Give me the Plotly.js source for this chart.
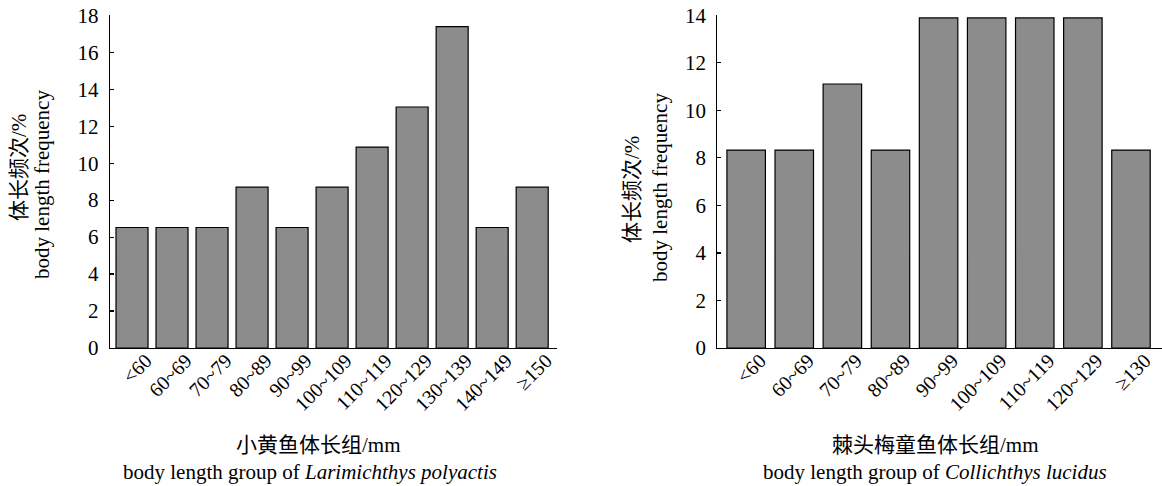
<!DOCTYPE html>
<html>
<head>
<meta charset="utf-8">
<script src="https://cdn.plot.ly/plotly-3.0.1.min.js"></script>
<style>html,body{margin:0;padding:0;background:#fff;}#chart{width:1162px;height:486px;}</style>
</head>
<body>
<div id="chart"></div>
<script>
// Left panel: Larimichthys polyactis
const catsA = ["<60","60~69","70~79","80~89","90~99","100~109","110~119","120~129","130~139","140~149","≥150"];
const valsA = [6.52,6.52,6.52,8.70,6.52,8.70,10.87,13.04,17.39,6.52,8.70];
// Right panel: Collichthys lucidus
const catsB = ["<60","60~69","70~79","80~89","90~99","100~109","110~119","120~129","≥130"];
const valsB = [8.33,8.33,11.11,8.33,13.89,13.89,13.89,13.89,8.33];

const FONT = "'Liberation Serif', 'Times New Roman', 'Noto Sans CJK SC', serif";
const W = 1162, H = 486;
const barStyle = {color:"#8c8c8c", line:{color:"#000", width:1.2}};

const traces = [
  {type:"bar", x:catsA, y:valsA, xaxis:"x", yaxis:"y", marker:barStyle, width:0.8, hoverinfo:"x+y"},
  {type:"bar", x:catsB, y:valsB, xaxis:"x2", yaxis:"y2", marker:barStyle, width:0.8, hoverinfo:"x+y"}
];

const yDom = [1-348/H, 1-15.3/H];
const xBase = {
  type:"category", showline:true, linecolor:"#000", linewidth:1.2, ticks:"",
  tickangle:-45, tickfont:{family:FONT, size:20, color:"#000"}, showgrid:false, zeroline:false,
  fixedrange:true, ticklabelstandoff:-8, ticklabelshift:14
};
const yBase = {
  showline:true, linecolor:"#000", linewidth:1.2, ticks:"inside", ticklen:4, tickcolor:"#000",
  tickwidth:1.2, dtick:2, tickfont:{family:FONT, size:21, color:"#000"}, showgrid:false,
  zeroline:false, ticklabelstandoff:6, fixedrange:true
};

const layout = {
  width:W, height:H, margin:{l:0,r:0,t:0,b:0}, showlegend:false,
  paper_bgcolor:"#fff", plot_bgcolor:"#fff", bargap:0.2,
  xaxis: Object.assign({}, xBase, {domain:[110/W, 557/W], range:[-0.55, 10.62], anchor:"y"}),
  yaxis: Object.assign({}, yBase, {domain:yDom, range:[0,18], anchor:"x"}),
  xaxis2: Object.assign({}, xBase, {domain:[717.3/W, 1], range:[-0.6, 8.645], anchor:"y2"}),
  yaxis2: Object.assign({}, yBase, {domain:yDom, range:[0,14], anchor:"x2"}),
  annotations: [
    {text:"体长频次/%", x:19/W, y:1-168/H, textangle:-90},
    {text:"body length frequency", x:42/W, y:1-185/H, textangle:-90},
    {text:"体长频次/%", x:632/W, y:1-190/H, textangle:-90},
    {text:"body length frequency", x:660/W, y:1-188/H, textangle:-90},
    {text:"小黄鱼体长组/mm", x:318/W, y:1-445/H},
    {text:"body length group of <i>Larimichthys polyactis</i>", x:310/W, y:1-472/H},
    {text:"棘头梅童鱼体长组/mm", x:935/W, y:1-445/H},
    {text:"body length group of <i>Collichthys lucidus</i>", x:935/W, y:1-472/H}
  ].map(a => Object.assign({xref:"paper", yref:"paper", showarrow:false, xanchor:"center", yanchor:"middle",
    font:{family:FONT, size:21, color:"#000"}}, a))
};

Plotly.newPlot("chart", traces, layout, {displayModeBar:false, staticPlot:true});
</script>
</body>
</html>
